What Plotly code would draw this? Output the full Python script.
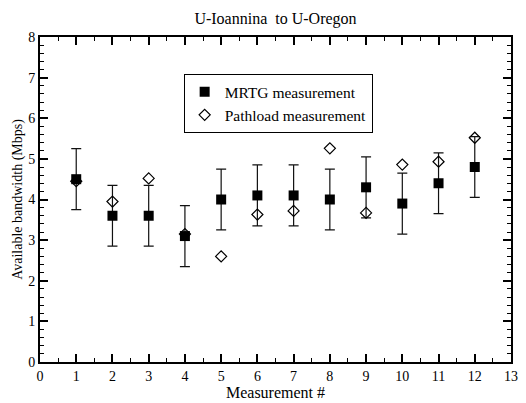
import plotly.graph_objects as go

# Measurement index and bandwidth readings (Mbps)
measurement = [1, 2, 3, 4, 5, 6, 7, 8, 9, 10, 11, 12]
mrtg = [4.5, 3.6, 3.6, 3.1, 4.0, 4.1, 4.1, 4.0, 4.3, 3.9, 4.4, 4.8]
mrtg_err = [0.75, 0.75, 0.75, 0.75, 0.75, 0.75, 0.75, 0.75, 0.75, 0.75, 0.75, 0.75]
pathload = [4.45, 3.95, 4.52, 3.15, 2.6, 3.63, 3.72, 5.26, 3.67, 4.86, 4.93, 5.52]

x_ticks = list(range(0, 14))
y_ticks = list(range(0, 9))

FONT = "Liberation Serif"

fig = go.Figure()
fig.add_trace(go.Scatter(
    x=measurement, y=mrtg, mode="markers", name="MRTG measurement",
    marker=dict(symbol="square", size=10, color="black"),
    error_y=dict(type="data", array=mrtg_err, visible=True,
                 color="#111111", thickness=1.2, width=5),
))
fig.add_trace(go.Scatter(
    x=measurement, y=pathload, mode="markers", name="Pathload measurement",
    marker=dict(symbol="diamond-open", size=8.5, color="black",
                line=dict(width=1.2, color="black")),
))

axis_common = dict(
    showgrid=False, zeroline=False, showline=True, linecolor="black",
    linewidth=2, mirror="allticks", ticks="inside", ticklen=8, tickwidth=1.5,
    tickcolor="black", tickfont=dict(family=FONT, size=14, color="black"),
)

fig.update_xaxes(
    range=[0, 13], tickvals=x_ticks, ticktext=[str(v) for v in x_ticks],
    title=dict(text="Measurement #", font=dict(family=FONT, size=16, color="black"),
               standoff=0),
    minor=dict(dtick=0.5, ticks="inside", ticklen=4, tickwidth=1.2, tickcolor="black"),
    **axis_common,
)
fig.update_yaxes(
    range=[0, 8], tickvals=y_ticks, ticktext=[str(v) for v in y_ticks],
    title=dict(text="Available bandwidth (Mbps)",
               font=dict(family=FONT, size=14, color="black"), standoff=2),
    minor=dict(dtick=0.2, ticks="inside", ticklen=4, tickwidth=1.2, tickcolor="black"),
    **axis_common,
)

fig.update_layout(
    width=526, height=403,
    margin=dict(l=40, r=8, t=37, b=33),
    paper_bgcolor="white", plot_bgcolor="white",
    title=dict(text="U-Ioannina  to U-Oregon", x=0.5, xref="paper", xanchor="center",
               y=1 - 18 / 403, yanchor="middle",
               font=dict(family=FONT, size=16, color="black")),
    legend=dict(x=0.305, y=0.795, xanchor="left", yanchor="middle",
                bgcolor="white", bordercolor="black", borderwidth=1,
                font=dict(family=FONT, size=15.5, color="black"),
                tracegroupgap=0, itemwidth=30),
    showlegend=True,
)

fig.write_html("out.html")
